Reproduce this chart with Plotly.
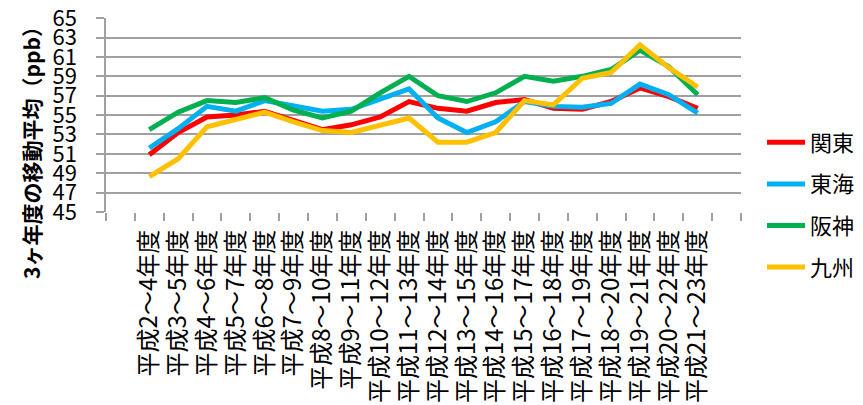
import plotly.graph_objects as go

categories = ["", "平成2～4年度", "平成3～5年度", "平成4～6年度", "平成5～7年度", "平成6～8年度",
              "平成7～9年度", "平成8～10年度", "平成9～11年度", "平成10～12年度", "平成11～13年度",
              "平成12～14年度", "平成13～15年度", "平成14～16年度", "平成15～17年度", "平成16～18年度",
              "平成17～19年度", "平成18～20年度", "平成19～21年度", "平成20～22年度", "平成21～23年度", " "]

kanto  = [None, 50.9, 53.2, 54.8, 55.0, 55.4, 54.5, 53.5, 54.0, 54.8, 56.4,
          55.7, 55.4, 56.3, 56.6, 55.7, 55.6, 56.4, 57.8, 56.9, 55.7, None]
tokai  = [None, 51.6, 53.6, 55.9, 55.4, 56.5, 55.9, 55.4, 55.6, 56.6, 57.7,
          54.7, 53.2, 54.3, 56.4, 55.9, 55.8, 56.2, 58.2, 57.1, 55.2, None]
hanshin = [None, 53.5, 55.3, 56.5, 56.3, 56.8, 55.5, 54.7, 55.4, 57.3, 59.0,
           57.0, 56.4, 57.3, 59.0, 58.5, 59.0, 59.7, 61.7, 60.0, 57.1, None]
kyushu = [None, 48.65, 50.5, 53.8, 54.6, 55.3, 54.3, 53.4, 53.2, 53.9, 54.7,
          52.2, 52.2, 53.2, 56.5, 56.05, 58.8, 59.4, 62.25, 59.9, 57.9, None]

series_names = ["関東", "東海", "阪神", "九州"]
series_values = [kanto, tokai, hanshin, kyushu]
colors = ["#FF0000", "#00B0F0", "#00B050", "#FFC000"]

y_ticks = list(range(45, 66, 2))

font_family = "Noto Sans CJK JP"

L, R, T, B = 106, 122, 18, 193
W = 863 - L - R
H = 405 - T - B

fig = go.Figure()
for name, vals, col in zip(series_names, series_values, colors):
    fig.add_trace(go.Scatter(
        x=categories, y=vals, name=name, mode="lines",
        line=dict(color=col, width=5),
        legendgroup=name, connectgaps=False,
    ))

fig.update_layout(
    width=863, height=405,
    margin=dict(l=L, r=R, t=T, b=B, autoexpand=False),
    paper_bgcolor="white", plot_bgcolor="white",
    font=dict(family=font_family, color="black"),
    showlegend=True,
    legend=dict(
        x=(762 - L) / W, xanchor="left", y=(405 - B - 205) / H, yanchor="middle",
        font=dict(size=22, family=font_family),
        traceorder="grouped", tracegroupgap=10, itemwidth=38,
        bgcolor="rgba(0,0,0,0)",
    ),
    xaxis=dict(
        type="category", categoryorder="array", categoryarray=categories,
        tickmode="array", tickvals=categories, ticktext=categories,
        tickangle=-90, tickfont=dict(size=24, family=font_family),
        ticks="outside", tickson="boundaries", ticklen=8, tickcolor="#A0A0A0", tickwidth=1.5,
        showline=False, showgrid=False, zeroline=False,
        range=[-0.5, len(categories) - 0.5],
        ticklabelstandoff=12, automargin=False,
    ),
    yaxis=dict(
        range=[45, 65.02], tickmode="array", tickvals=y_ticks,
        ticktext=[str(v) for v in y_ticks],
        tickfont=dict(size=22, family=font_family),
        showgrid=True, gridcolor="#A0A0A0", gridwidth=1.5,
        showline=True, linecolor="#A0A0A0", linewidth=1.5,
        ticks="outside", ticklen=8, tickcolor="#A0A0A0", tickwidth=1.5,
        zeroline=False, ticklabelstandoff=15, automargin=False,
        ticklabeloverflow="allow",
    ),
    annotations=[dict(
        text="<b>3ヶ年度の移動平均（ppb）</b>",
        x=(31 - L) / W, y=(405 - B - 148) / H, xref="paper", yref="paper",
        xanchor="center", yanchor="middle",
        showarrow=False, textangle=-90,
        font=dict(size=21, family=font_family, color="black"),
    )],
)

fig.write_html("out.html", config={"displayModeBar": False},
               post_script="document.body.style.margin='0';")
